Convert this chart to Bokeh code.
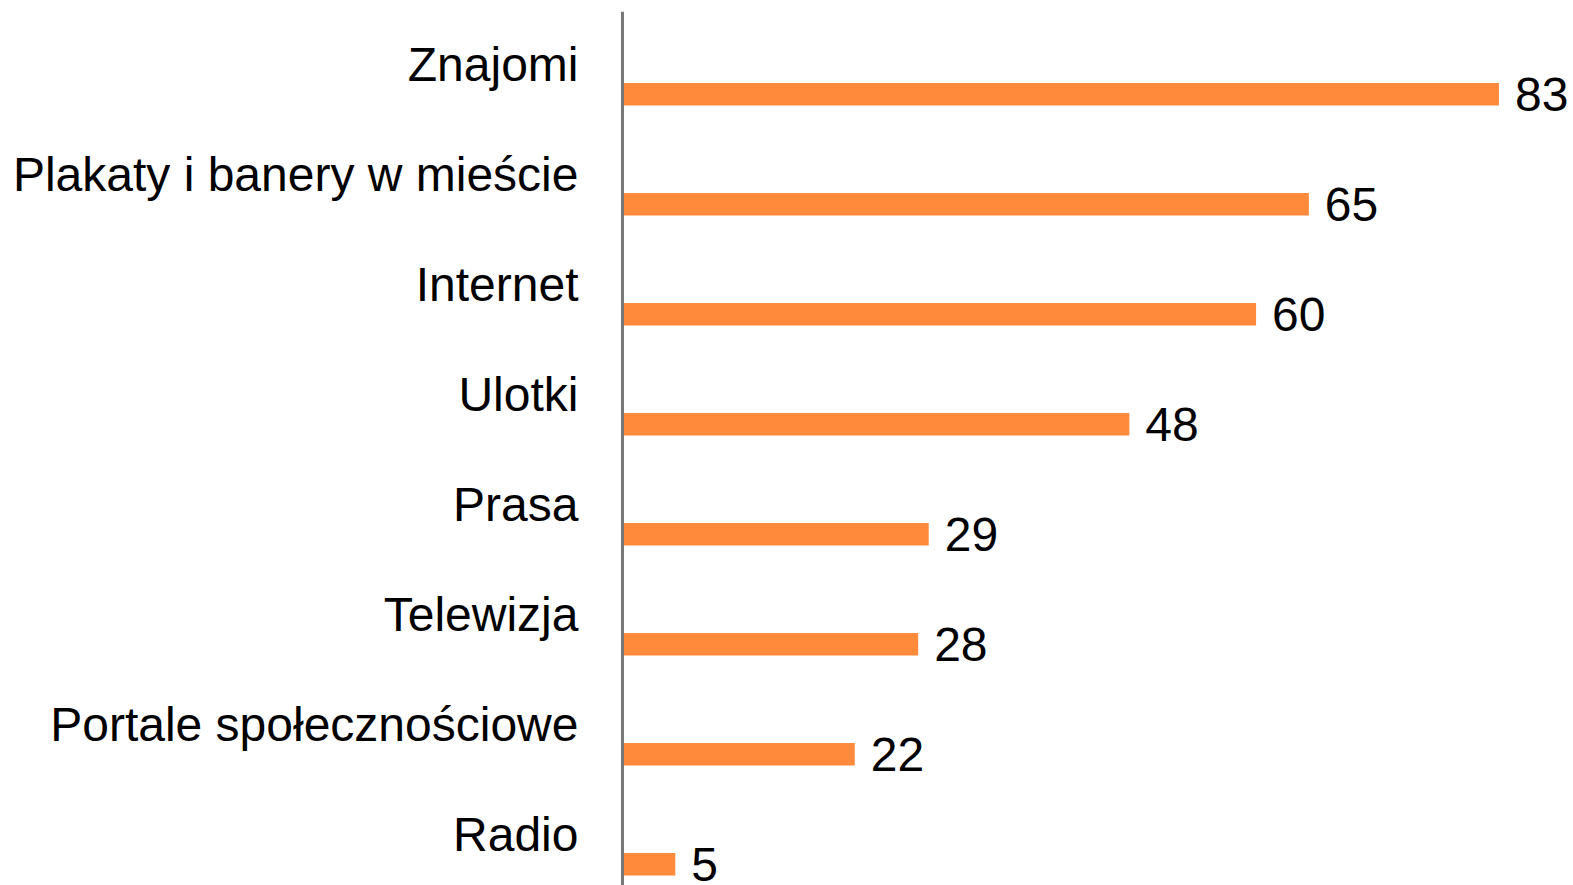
from bokeh.plotting import figure
from bokeh.models import Range1d, Span, ColumnDataSource
from bokeh.core.properties import value
from bokeh.embed import file_html
from bokeh.resources import INLINE

categories = ["Znajomi", "Plakaty i banery w mieście", "Internet", "Ulotki",
              "Prasa", "Telewizja", "Portale społecznościowe", "Radio"]
values = [83, 65, 60, 48, 29, 28, 22, 5]

positions = list(range(len(categories)))
src = ColumnDataSource(dict(y=positions, v=values, cat=categories,
                            lbl=[str(v) for v in values]))

W, H = 1573, 885
p = figure(width=W, height=H, output_backend="svg", toolbar_location=None,
           x_range=Range1d(-58.9, 90.06), y_range=Range1d(7.194, -0.752),
           min_border_left=0, min_border_right=0, min_border_top=11,
           min_border_bottom=0)
p.axis.visible = False
p.grid.visible = False
p.outline_line_color = None
p.background_fill_color = "white"
p.border_fill_color = "white"

p.hbar(y="y", left=0, right="v", height=0.205, source=src,
       fill_color="#FF8A3B", line_color=None)

p.add_layout(Span(location=0, dimension="height", line_color="#777777",
                  line_width=3))

font = value("Liberation Sans")
p.text(x=0, y="y", text="cat", source=src, x_offset=-44, y_offset=-29.5,
       text_align="right", text_baseline="alphabetic", text_font=font,
       text_font_size="48px", text_color="black")
p.text(x="v", y="y", text="lbl", source=src, x_offset=16, y_offset=0.5,
       text_align="left", text_baseline="alphabetic", text_font=font,
       text_font_size="48px", text_color="black")

open("out.html", "w").write(file_html(p, INLINE))
